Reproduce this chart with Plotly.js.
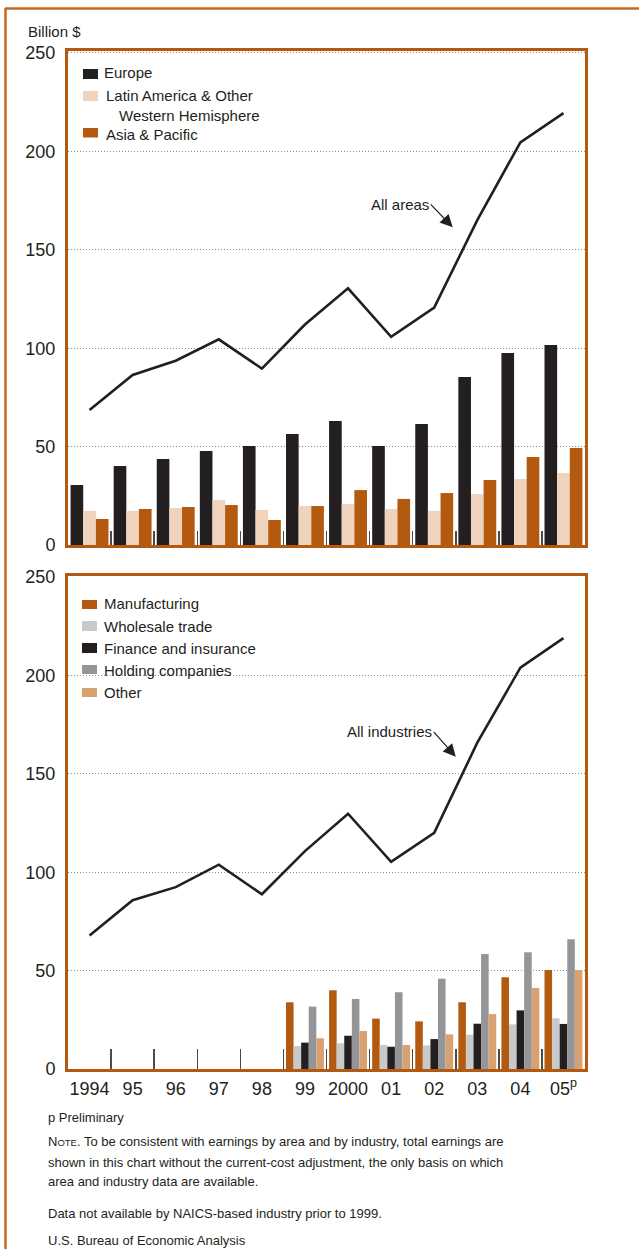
<!DOCTYPE html>
<html><head><meta charset="utf-8">
<script src="https://cdn.plot.ly/plotly-3.0.1.min.js"></script>
<style>html,body{margin:0;padding:0;background:#fff;} #chart{width:639px;height:1249px;}</style>
</head><body><div id="chart"></div>
<script>
// ---------- data ----------
const yearLabels = ['1994','95','96','97','98','99','2000','01','02','03','04','05<sup>p</sup>'];
const allAreas = [68.6, 86.4, 93.6, 104.5, 89.6, 112.0, 130.4, 105.8, 120.6, 165.1, 204.6, 219.4];
const europe   = [30.5, 40.1, 43.7, 47.8, 50.3, 56.4, 63.0, 50.3, 61.5, 85.4, 97.6, 101.6];
const latinAm  = [17.3, 17.3, 18.8, 22.9, 17.8, 19.8, 20.8, 18.3, 17.3, 25.9, 33.5, 36.6];
const asiaPac  = [13.2, 18.3, 19.3, 20.3, 12.7, 19.8, 27.9, 23.4, 26.4, 33.0, 44.7, 49.3];

const allIndustries = [67.8, 85.8, 92.4, 103.8, 88.8, 110.7, 129.7, 105.3, 120.0, 165.8, 203.9, 218.9];
const manufacturing = [null, null, null, null, null, 33.9, 40.0, 25.6, 24.2, 33.9, 46.6, 50.3];
const wholesale     = [null, null, null, null, null, 11.7, 13.1, 12.2, 12.0, 17.4, 22.7, 25.8];
const finance       = [null, null, null, null, null, 13.4, 16.9, 11.3, 15.2, 23.0, 29.8, 22.9];
const holding       = [null, null, null, null, null, 31.7, 35.6, 39.0, 45.9, 58.4, 59.3, 65.9];
const otherInd      = [null, null, null, null, null, 15.6, 19.3, 12.2, 17.6, 27.9, 41.2, 50.3];

const yTicks = [0, 50, 100, 150, 200, 250];

// ---------- layout helpers ----------
const W = 639, H = 1249, ML = 68, MR = 54, MT = 51, MB = 180;
const PW = W - ML - MR, PH = H - MT - MB;
const px = x => (x - ML) / PW;
const py = y => (H - MB - y) / PH;

const FONT = 'Liberation Sans, Arial, Helvetica, sans-serif';
const INK = '#231f20';
const ORANGE = '#b35a10';
const C = {
  europe: '#231f20', latin: '#efd3bd', asia: '#b35a10',
  manuf: '#b35a10', whole: '#c8c9cb', fin: '#231f20', hold: '#939598', other: '#d9a070'
};

function bar(name, y, color, xa, ya) {
  return {type: 'bar', name: name, x: yearLabels, y: y, xaxis: xa, yaxis: ya,
          marker: {color: color, line: {width: 0}}, hoverinfo: 'y'};
}

const traces = [
  bar('Europe', europe, C.europe, 'x', 'y'),
  bar('Latin America & Other Western Hemisphere', latinAm, C.latin, 'x', 'y'),
  bar('Asia & Pacific', asiaPac, C.asia, 'x', 'y'),
  {type: 'scatter', mode: 'lines', name: 'All areas', x: yearLabels, y: allAreas,
   xaxis: 'x', yaxis: 'y', line: {color: INK, width: 2.6}},
  bar('Manufacturing', manufacturing, C.manuf, 'x2', 'y2'),
  bar('Wholesale trade', wholesale, C.whole, 'x2', 'y2'),
  bar('Finance and insurance', finance, C.fin, 'x2', 'y2'),
  bar('Holding companies', holding, C.hold, 'x2', 'y2'),
  bar('Other', otherInd, C.other, 'x2', 'y2'),
  {type: 'scatter', mode: 'lines', name: 'All industries', x: yearLabels, y: allIndustries,
   xaxis: 'x2', yaxis: 'y2', line: {color: INK, width: 2.6}}
];

function xAxis(anchor, showLabels, ticklen) {
  return {
    type: 'category', categoryarray: yearLabels, categoryorder: 'array',
    anchor: anchor, domain: [0, 1], range: [-0.5, 11.5],
    showgrid: false, zeroline: false,
    showline: true, mirror: true, linecolor: ORANGE, linewidth: 3,
    ticks: 'inside', tickson: 'boundaries', ticklen: ticklen, tickwidth: 1.5, tickcolor: '#4a4a4a',
    showticklabels: showLabels, tickangle: 0, automargin: false,
    tickfont: {family: FONT, size: 18, color: INK},
    ticklabelstandoff: 1, fixedrange: true
  };
}
function yAxis(anchor, domain, top) {
  return {
    anchor: anchor, domain: domain, range: [0, top],
    tickmode: 'array', tickvals: yTicks, ticktext: yTicks.map(String),
    showgrid: true, gridcolor: '#8f8f8f', gridwidth: 1, griddash: '1px,2px',
    zeroline: false, showline: true, mirror: true, linecolor: ORANGE, linewidth: 3,
    ticks: '', ticklabelstandoff: 6, automargin: false,
    tickfont: {family: FONT, size: 18, color: INK}, fixedrange: true
  };
}

function legendItem(text, color, sx, sy0, sy1, tx, ty) {
  return {
    shape: {type: 'rect', xref: 'paper', yref: 'paper', x0: px(sx), x1: px(sx + 15),
            y0: py(sy1), y1: py(sy0), fillcolor: color, line: {width: 0}, layer: 'above'},
    ann: {xref: 'paper', yref: 'paper', x: px(tx), y: py(ty), xanchor: 'left', yanchor: 'middle',
          text: text, showarrow: false, font: {family: FONT, size: 15, color: INK}}
  };
}
const legendItems = [
  legendItem('Europe', C.europe, 83, 69, 79, 102, 73),
  legendItem('Latin America &amp; Other', C.latin, 83, 91, 101, 104, 95),
  legendItem('Asia &amp; Pacific', C.asia, 83, 128, 137.5, 104, 134),
  legendItem('Manufacturing', C.manuf, 82, 600, 609, 102, 603),
  legendItem('Wholesale trade', C.whole, 82, 621, 631, 102, 626),
  legendItem('Finance and insurance', C.fin, 82, 643, 653, 102, 648),
  legendItem('Holding companies', C.hold, 82, 665, 674, 102, 670),
  legendItem('Other', C.other, 82, 688, 697, 102, 692)
];

function note(text, y, size) {
  return {xref: 'paper', yref: 'paper', x: px(46), y: py(y), xanchor: 'left', yanchor: 'middle',
          text: text, showarrow: false, font: {family: FONT, size: size || 13, color: INK}};
}

const annotations = [
  {xref: 'paper', yref: 'paper', x: px(26), y: py(31), xanchor: 'left', yanchor: 'middle',
   text: 'Billion $', showarrow: false, font: {family: FONT, size: 15, color: INK}},
  {xref: 'paper', yref: 'paper', x: px(117), y: py(115), xanchor: 'left', yanchor: 'middle',
   text: 'Western Hemisphere', showarrow: false, font: {family: FONT, size: 15, color: INK}},
  {xref: 'x', yref: 'y', x: 8.43, y: 161.4, ax: -22, ay: -23, xanchor: 'right', yanchor: 'middle',
   text: 'All areas', showarrow: true, arrowhead: 2, arrowsize: 2.1, arrowwidth: 1.2,
   arrowcolor: INK, standoff: 0, font: {family: FONT, size: 15, color: INK}},
  {xref: 'x2', yref: 'y2', x: 8.5, y: 158.6, ax: -22, ay: -25, xanchor: 'right', yanchor: 'middle',
   text: 'All industries', showarrow: true, arrowhead: 2, arrowsize: 2.1, arrowwidth: 1.2,
   arrowcolor: INK, standoff: 0, font: {family: FONT, size: 15, color: INK}},
  note('p Preliminary', 1117),
  note('N<span style="font-size:9.5px">OTE</span>. To be consistent with earnings by area and by industry, total earnings are', 1141),
  note('shown in this chart without the current-cost adjustment, the only basis on which', 1162),
  note('area and industry data are available.', 1181),
  note('Data not available by NAICS-based industry prior to 1999.', 1213),
  note('U.S. Bureau of Economic Analysis', 1240)
].concat(legendItems.map(d => d.ann));

const frameColor = '#c46a1f';
const shapes = [
  {type: 'line', xref: 'paper', yref: 'paper', x0: px(5), x1: px(640), y0: py(8.5), y1: py(8.5),
   line: {color: frameColor, width: 2.5}},
  {type: 'line', xref: 'paper', yref: 'paper', x0: px(5.5), x1: px(5.5), y0: py(8), y1: py(1250),
   line: {color: frameColor, width: 2.5}}
].concat(legendItems.map(d => d.shape));

const layout = {
  width: W, height: H,
  margin: {l: ML, r: MR, t: MT, b: MB, pad: 0},
  paper_bgcolor: '#ffffff', plot_bgcolor: '#ffffff',
  showlegend: false,
  barmode: 'group', bargap: 0.12, bargroupgap: 0,
  font: {family: FONT, color: INK},
  xaxis: xAxis('y', false, 14),
  yaxis: yAxis('x', [py(545), 1], 251),
  xaxis2: xAxis('y2', true, 20),
  yaxis2: yAxis('x2', [0, py(576)], 250.5),
  annotations: annotations,
  shapes: shapes
};

Plotly.newPlot('chart', traces, layout, {staticPlot: true, displayModeBar: false});
</script>
</body></html>
